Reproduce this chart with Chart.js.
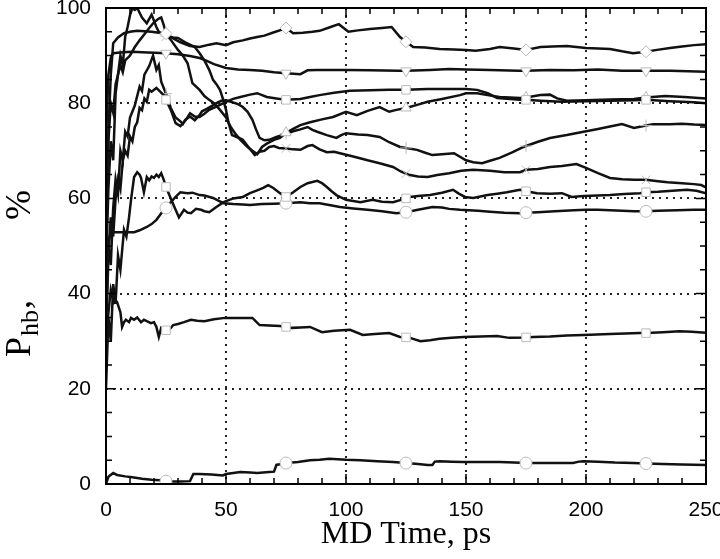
<!DOCTYPE html>
<html>
<head>
<meta charset="utf-8">
<script src="https://cdn.jsdelivr.net/npm/chart.js@4/dist/chart.umd.min.js"></script>
<style>
  html, body { margin: 0; padding: 0; background: #fff; }
  canvas { display: block; }
</style>
</head>
<body>
<canvas id="chart" width="720" height="559"></canvas>
<script>
// [time (ps), P_hb (%)] pairs, one array per H-bond trace
const diamondLine = [[0,55],[1,74],[2,86],[3,92.6],[5,93.8],[7.5,94.7],[10,95],[13,95.2],[16,95.1],[19,95],[22,94.8],[25,94.6],[28,93.6],[31,92.8],[35,92],[39,91.8],[43,92.3],[46,92.6],[50,92.2],[53,92.8],[57,93.2],[60,93.6],[63,93.9],[66,94.2],[70,94.9],[73,95.4],[75,95.8],[78,94.7],[82,94.8],[86,95],[89,95.2],[93,95.9],[97,96.6],[101,95],[105,95.3],[110,95.6],[115,95.8],[119,96],[122.5,93.9],[125,92.9],[128,91.8],[133,91.7],[139,91.4],[145,91.3],[150,91.2],[154,91],[160,91.4],[164,91.8],[170,91.5],[175,91.2],[181,91.8],[186,91.9],[192,92],[196,91.8],[200,91.6],[205,91.5],[210,91.4],[215,90.9],[219.6,90.5],[225,90.8],[229.6,91.2],[235,91.6],[240,91.9],[245,92.2],[250,92.4]];
const triDownLine = [[0,72],[1,86],[2,89.5],[3,90.5],[7,90.7],[11,90.8],[15,90.7],[20,90.6],[25,90.5],[30,90.3],[35,89.9],[39,89.5],[42,88.9],[45,88.2],[50,87.4],[55,87.1],[60,87],[65,86.8],[70,86.5],[75,86.3],[81,86.1],[84,86.9],[88,87],[95,87],[100,87],[110,86.9],[122,86.8],[125,86.8],[135,87],[143,87.2],[150,87.1],[160,87],[172,86.8],[175,86.8],[185,87],[195,86.9],[205,87.1],[215,86.8],[225,86.8],[235,86.8],[250,86.6]];
const boxCrossLine = [[0,30],[1,48],[2,56],[3,52],[4,60],[5,64],[6,62],[7,68],[8,70],[9,69],[10,73],[11,72],[12,75],[13,76],[14,79],[15,78.5],[16,81],[17,80.3],[18,82.8],[19,82.4],[21,83.2],[23,82.2],[24,81.7],[25,80.7],[27,78.6],[29,75.8],[31,75.2],[33,76.3],[35,77.9],[37,77.2],[39,77.1],[41,77.8],[43,78.6],[46,79.3],[50,80.3],[53,80.9],[56,81.3],[60,81.8],[63,82.1],[67,81.3],[71,81],[75,80.7],[81,80.9],[85,81.3],[89,81.7],[95,82.2],[101.7,82.6],[110,82.7],[118,82.8],[125,82.8],[134,83],[142,83],[150,83],[154.6,82.8],[159,82.1],[163,81.1],[172.5,80.7],[175,80.7],[181,80.5],[190,80.3],[200,80.4],[210,80.5],[220,80.6],[225,80.7],[235,80.4],[245,80.2],[250,80]];
const triUpLine = [[0,58],[1,72],[2,80],[3,78],[4,84],[5,86],[6,88],[7,86.5],[8,89],[10,90],[12,91.8],[14,93.2],[16,94.5],[18,95.8],[20,97],[22,97.8],[23,98],[24,96.5],[25,94.7],[27,93.3],[30,91.2],[32,90],[34,88.4],[36,84.2],[39,82.8],[41,81.5],[43,80.7],[45,80],[47.5,78.6],[50,77],[52,75],[54,73.5],[56,72.3],[59,70.8],[61,70],[63,69.3],[65,70.8],[67,71.5],[70,72.3],[72.5,72.7],[75,73.8],[78,74.6],[81,75.4],[85,76],[90,76.6],[94.6,77.1],[100,78.2],[104.5,77.5],[109,78.4],[114,79.2],[118,78.2],[121,78.6],[125,79],[130,79.7],[134,80.3],[140,80.9],[147.5,81.7],[150,82.1],[154.6,82.1],[159,81.7],[164,81.3],[172.5,81.1],[175,81.2],[181,81.7],[185,81.8],[188,81],[192,80.5],[200,80.6],[210,80.8],[220,80.9],[225,81.2],[233,81.5],[241,81.3],[250,81]];
const plusLine = [[0,35],[1,50],[2,46],[3,58],[4,64],[5,61],[6,70],[7,68],[8,74],[9,73],[10,77],[12,79.5],[14,83.5],[15,82.6],[16,86],[18,87.8],[19.6,90],[21,87],[22,88],[23,84.5],[25,82],[26,80.5],[27,79],[29,77],[31,76.2],[32,75.6],[33,76.5],[35,77.2],[37,76.4],[39,77.5],[40,78.3],[42,78.8],[44,79.4],[46,80],[48,80.5],[50,80.6],[52,80.3],[55,79.8],[57,79.2],[59,78.2],[61,76.5],[62.5,74.5],[64,72.7],[66,72.2],[68,72.3],[71,72.9],[73,73.2],[75,73.6],[78,74.1],[81,74.5],[84,75],[86,74.4],[88,74],[92,73.3],[96,72.7],[98,73.3],[100,73.7],[105,73.4],[109,73.3],[114,72.9],[118,71.8],[122.5,70.8],[125,70.6],[129.6,70.2],[133,69.6],[136,69.1],[140,69.3],[145,69.5],[150,68],[153,67.6],[156.7,67.4],[160,67.9],[164,68.5],[169,69.6],[174,70.8],[175,71],[180,71.9],[185,72.7],[192,73.3],[199,74],[205,74.6],[210,75.1],[215,75.6],[220,74.8],[225,75.3],[228,75.6],[235,75.6],[240,75.7],[245,75.5],[250,75.4]];
const crossLine = [[0,45],[1,62],[2,72],[3,68],[4,82],[5,86],[6,90],[7,88],[8,94],[9,96],[10,98.5],[11,100],[12,99.6],[13,100],[15,98],[17,96.8],[19,98.6],[21,96],[22,95],[25,94],[28,93.8],[30,93.7],[33,92.8],[37,91.8],[39,90.5],[41,89],[43,87],[44.6,84.9],[46,84],[47.5,82.8],[49,80.5],[50,78.6],[51,76],[52.5,73.3],[55,72.8],[57,72.3],[59,71],[62,69.1],[64,69.8],[66,70],[68,70.8],[70,71],[72,70.6],[75,70.5],[78,70.3],[81,70.2],[84,71],[86,71.2],[89,70.3],[92,69.7],[95,69.8],[97.5,69.5],[103,68.8],[109,68],[114,67.4],[119.6,66.6],[123,65.6],[125,65.2],[126.7,64.9],[130,64.6],[134,64.5],[138,64.9],[143,65.3],[148,65.8],[153,66],[160,65.8],[166,65.5],[172.5,65.5],[175,66],[180,66.2],[185,66.6],[190,66.8],[196,67.2],[200,66.4],[205,65.3],[210,64.3],[215,64],[220,63.9],[225,63.9],[230,63.6],[234,63.4],[240,63.2],[245,63],[248,62.8],[250,62.3]];
const boxLine = [[0,20],[1,35],[2,30],[3,42],[4,38],[5,48],[6,45],[7.5,53.4],[8.5,52],[9.6,56],[10.5,60],[11.7,64.5],[13,65.5],[14,65],[14.6,64.3],[15.8,61.3],[17,64.5],[18,63.8],[19,64.6],[20,64.3],[21,65],[22,64.5],[23,65.3],[24,64],[25,62.4],[27,60],[28.5,58.2],[30.4,56],[32.5,57.6],[34,57],[35.4,56.9],[37.5,57.8],[39.6,57.6],[41,57.3],[43,57.1],[46,58.2],[49,59.2],[53,60],[57,60.3],[60,61.1],[63,61.7],[65.5,62.2],[67.6,62.8],[69.7,62.2],[72.5,61.1],[75,60.3],[78,61.3],[81,62.4],[84,63.2],[88,63.7],[90,63.2],[92,62.4],[94,61.5],[96,60.7],[100,59.7],[106,59.2],[111,59.7],[115,59.3],[119.6,59.2],[125,60],[126.7,60.3],[130,60.5],[135,60.7],[140,61.2],[144.6,61.8],[147,61],[149.6,60.3],[153,60.1],[159,60.7],[163,61],[167,61.3],[172.5,61.8],[175,61.5],[179.6,61.1],[185,61],[190,61.1],[194,60.3],[199,60.5],[205,60.6],[210,60.7],[216,60.9],[222.5,61.1],[225,61.3],[230,61.4],[236,61.6],[242,61.8],[246,61.6],[250,61.1]];
const circleHighLine = [[0,46],[1,51],[2,52.9],[5,52.9],[11.7,52.9],[14,53.3],[17,54],[19,54.6],[21,55.5],[22.5,56.5],[24,57.6],[25,58],[27,59.2],[29,60.3],[31,61.3],[34,61.1],[36,61.2],[39,60.7],[41,60.6],[44.6,60.1],[47,59.5],[49,59],[53,58.8],[57,58.7],[60,58.6],[65,58.8],[70,58.9],[75,59],[81,59.2],[85,59],[89,59],[93,58.6],[97.5,58.2],[103,57.9],[109,57.6],[115,57.3],[121,56.9],[125,57.1],[130,57.6],[136,58.2],[140,58.1],[143,57.8],[147.5,57.6],[155,57.4],[160,57.2],[166,57],[172.5,56.9],[175,57],[180,57.1],[187,57.3],[195,57.5],[200,57.6],[205,57.6],[210,57.5],[220,57.3],[225,57.3],[230,57.4],[238,57.5],[245,57.6],[250,57.6]];
const boxDiagLine = [[0,28],[1,36],[2,40.8],[3.3,38],[4.6,38.2],[6,36.1],[6.7,33],[7.5,34],[8.3,34.5],[9.6,34],[10.4,34.9],[11.7,34.5],[13,35],[14.6,34],[15.8,34.5],[17,34.2],[18.7,33.8],[20,34],[21,33],[22,30.9],[23,32.8],[25,32.3],[27,32.8],[28,33.4],[30,33.6],[32.5,34],[35.4,34.5],[38,34.3],[41,34.2],[45,34.6],[49.6,34.9],[55,34.9],[61,34.9],[64,33.4],[68,33.3],[72.5,33.2],[75,33],[77.5,32.8],[81,32.9],[85,33],[90,31.9],[95,32.2],[101.7,32.4],[107,31.3],[112,31.5],[118,31.7],[122.5,30.9],[125,30.8],[126.7,30.7],[131,30],[135,30.2],[139,30.5],[144,30.7],[149,30.9],[156,31],[163,31.1],[168,30.7],[175,30.8],[178,30.9],[185,31],[192,31.2],[199,31.3],[210,31.5],[222.5,31.7],[225,31.7],[232,31.9],[239,32.1],[244,32],[250,31.8]];
const circleLowLine = [[0,0],[1,1.5],[3,2.3],[4.6,1.9],[8,1.6],[11,1.4],[15,1.1],[19,0.9],[22.5,0.8],[25,0.6],[28,0.5],[31,0.5],[35,0.6],[36.4,2.1],[39,2.1],[44,2],[48.7,1.8],[50,2.1],[53,2.3],[56,2.5],[60,2.4],[63,2.3],[68,2.5],[70,2.6],[71,4],[75,4.4],[80,4.6],[85,5],[89,5.1],[93,5.3],[100,5.1],[106,5],[113,4.8],[119.6,4.6],[125,4.4],[130,4.2],[134,4],[136,4],[137,4.7],[139,4.8],[144,4.7],[149,4.6],[155,4.6],[164,4.6],[170,4.5],[175,4.4],[185,4.4],[194.6,4.4],[197,4.7],[199,4.8],[205,4.7],[212,4.5],[219.6,4.4],[225,4.3],[232,4.2],[240,4.1],[250,4]];

// symbols are drawn only at these times
const markTimes = [25, 75, 125, 175, 225];
const xTitle = 'MD Time, ps';

const traces = [
    { data: diamondLine, style: 'rectRot', rot: 0 },
    { data: triDownLine, style: 'triangle', rot: 180 },
    { data: boxCrossLine, style: 'rect', rot: 0 },
    { data: triUpLine, style: 'triangle', rot: 0 },
    { data: plusLine, style: 'cross', rot: 0 },
    { data: crossLine, style: 'crossRot', rot: 0 },
    { data: boxLine, style: 'rect', rot: 0 },
    { data: circleHighLine, style: 'circle', rot: 0 },
    { data: boxDiagLine, style: 'rect', rot: 0 },
    { data: circleLowLine, style: 'circle', rot: 0 }
];

const datasets = traces.map(tr => ({
    data: tr.data.map(([t, p]) => ({ x: t, y: p })),
    borderColor: '#111',
    borderWidth: 2.5,
    pointStyle: tr.style,
    rotation: tr.rot,
    pointRadius: ctx => markTimes.includes(ctx.raw.x) ? 6 : 0,
    pointBorderColor: '#bbb',
    pointBackgroundColor: '#fff',
    pointBorderWidth: 1,
    tension: 0
}));

// frame, inward minor ticks and the two axis titles
const framePlugin = {
    id: 'frame',
    afterDraw(chart) {
        const { ctx, chartArea: a, scales: { x, y } } = chart;
        ctx.save();
        ctx.strokeStyle = '#000';
        ctx.lineWidth = 1.5;
        ctx.beginPath();
        for (let t = 10; t < 250; t += 10) {
            const px = x.getPixelForValue(t);
            const len = t % 50 === 0 ? 10 : 6;
            ctx.moveTo(px, a.bottom); ctx.lineTo(px, a.bottom - len);
            ctx.moveTo(px, a.top); ctx.lineTo(px, a.top + len);
        }
        for (let v = 5; v < 100; v += 5) {
            const py = y.getPixelForValue(v);
            const len = v % 20 === 0 ? 10 : 6;
            ctx.moveTo(a.left, py); ctx.lineTo(a.left + len, py);
            ctx.moveTo(a.right, py); ctx.lineTo(a.right - len, py);
        }
        ctx.stroke();
        ctx.lineWidth = 2;
        ctx.strokeRect(a.left, a.top, a.right - a.left, a.bottom - a.top);

        ctx.fillStyle = '#000';
        ctx.font = '32px "Liberation Serif"';
        ctx.textAlign = 'center';
        ctx.textBaseline = 'alphabetic';
        ctx.fillText(xTitle, (a.left + a.right) / 2, 543);

        // y title: P with subscript hb, read bottom to top
        ctx.translate(30, 357);
        ctx.rotate(-Math.PI / 2);
        ctx.textAlign = 'left';
        const big = '36px "Liberation Serif"', small = '26px "Liberation Serif"';
        ctx.font = big;
        ctx.fillText('P', 0, 0);
        const wP = ctx.measureText('P').width;
        ctx.font = small;
        ctx.fillText('hb', wP + 1, 8);
        const wS = ctx.measureText('hb').width;
        ctx.font = big;
        ctx.fillText(',', wP + wS + 2, 0);
        ctx.fillText('%', 167 - ctx.measureText('%').width, 0);
        ctx.restore();
    }
};

const gridColor = (lo, hi) => ctx => (ctx.tick.value > lo && ctx.tick.value < hi) ? '#222' : 'rgba(0,0,0,0)';

new Chart(document.getElementById('chart'), {
    type: 'line',
    data: { datasets },
    options: {
        responsive: false,
        animation: false,
        layout: { padding: { top: 8, right: 14, left: 0, bottom: 0 } },
        plugins: { legend: { display: false }, tooltip: { enabled: false } },
        scales: {
            x: {
                type: 'linear',
                min: 0, max: 250,
                ticks: { stepSize: 50, color: '#000', padding: 14, maxRotation: 0,
                         font: { family: 'Liberation Sans', size: 21 } },
                grid: { color: gridColor(0, 250), lineWidth: 2, drawTicks: false },
                border: { display: false, dash: [2, 5] },
                afterFit: s => { s.height = 75; s.paddingLeft = 0; s.paddingRight = 0; }
            },
            y: {
                min: 0, max: 100,
                ticks: { stepSize: 20, color: '#000', padding: 15,
                         font: { family: 'Liberation Sans', size: 21 } },
                grid: { color: gridColor(0, 100), lineWidth: 2, drawTicks: false },
                border: { display: false, dash: [2, 5] },
                afterFit: s => { s.width = 106; s.paddingTop = 0; s.paddingBottom = 0; }
            }
        }
    },
    plugins: [framePlugin]
});
</script>
</body>
</html>
